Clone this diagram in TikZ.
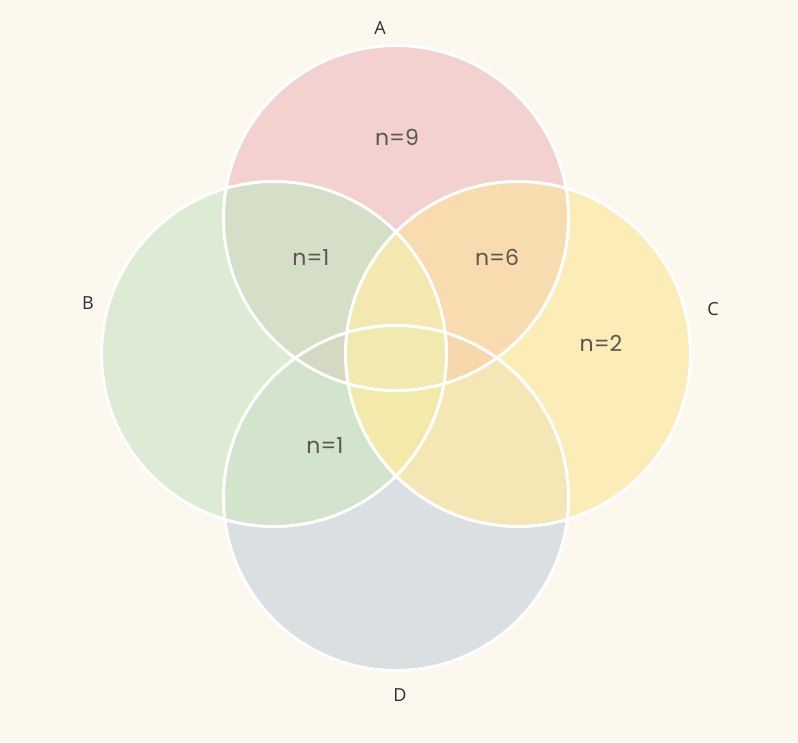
\documentclass[tikz,border=0pt]{standalone}
\usepackage{fontspec}
\setmainfont{Poppins}
\newfontfamily\letterfont{Open Sans}
\usetikzlibrary{positioning}
\definecolor{bgcream}{HTML}{FDF8EE}
\definecolor{letterink}{HTML}{2E2E2E}
\definecolor{countink}{HTML}{5A5650}
\definecolor{fillA}{HTML}{F2D1CF}
\definecolor{fillB}{HTML}{DDEBD4}
\definecolor{fillC}{HTML}{FCECB8}
\definecolor{fillD}{HTML}{DADFE2}
\definecolor{fillAB}{HTML}{D5DEC6}
\definecolor{fillAC}{HTML}{F8DCB0}
\definecolor{fillBD}{HTML}{D3E4CC}
\definecolor{fillCD}{HTML}{F5E6B5}
\definecolor{fillABC}{HTML}{F3E9B0}
\definecolor{fillBCD}{HTML}{F2E9AA}
\definecolor{fillABD}{HTML}{D5D9C3}
\definecolor{fillACD}{HTML}{F6D8AC}
\definecolor{fillABCD}{HTML}{F2E9B0}
\tikzset{
	setlabel/.style={font=\letterfont\fontsize{18}{18}\selectfont, text=letterink, inner sep=0pt},
	countlabel/.style={font=\fontsize{22}{22}\selectfont, text=countink, inner sep=0pt},
	rim/.style={draw=white, line width=3}
}
\newcommand{\rad}{172.5}
\newcommand{\circA}{(cA) circle[radius=\rad]}
\newcommand{\circB}{(cB) circle[radius=\rad]}
\newcommand{\circC}{(cC) circle[radius=\rad]}
\newcommand{\circD}{(cD) circle[radius=\rad]}
\begin{document}
\begin{tikzpicture}[x=1pt, y=-1pt]
	\fill[bgcream] (0,0) rectangle (798,742);
	\useasboundingbox (0,0) rectangle (798,742);

	\coordinate (cA) at (396, 218);
	\coordinate (cB) at (274, 354);
	\coordinate (cC) at (518, 354);
	\coordinate (cD) at (396, 498);

	% single sets
	\fill[fillA] \circA;
	\fill[fillB] \circB;
	\fill[fillC] \circC;
	\fill[fillD] \circD;

	% pairs
	\begin{scope}
		\clip \circA;
		\fill[fillAB] \circB;
		\fill[fillAC] \circC;
	\end{scope}
	\begin{scope}
		\clip \circD;
		\fill[fillBD] \circB;
		\fill[fillCD] \circC;
	\end{scope}
	\begin{scope}
		\clip \circB;
		\fill[fillABC] \circC;
	\end{scope}

	% triples
	\begin{scope}
		\clip \circA; \clip \circB;
		\fill[fillABC] \circC;
		\fill[fillABD] \circD;
	\end{scope}
	\begin{scope}
		\clip \circA; \clip \circC;
		\fill[fillACD] \circD;
	\end{scope}
	\begin{scope}
		\clip \circB; \clip \circC;
		\fill[fillBCD] \circD;
	\end{scope}

	% all four
	\begin{scope}
		\clip \circA; \clip \circB; \clip \circC;
		\fill[fillABCD] \circD;
	\end{scope}

	% outlines
	\foreach \c in {A, B, C, D}
		\draw[rim] (c\c) circle[radius=\rad];

	\node[setlabel] (labelA) at (380, 28) {A};
	\node[setlabel] (labelB) at (88, 303) {B};
	\node[setlabel] (labelC) at (713, 309) {C};
	\node[setlabel] (labelD) at (400, 695) {D};

	\node[countlabel] (onlyA) at (397, 137) {n=9};
	\node[countlabel] (AB) at (311, 258) {n=1};
	\node[countlabel] (AC) at (497, 257) {n=6};
	\node[countlabel] (onlyC) at (601, 343) {n=2};
	\node[countlabel] (BD) at (325, 446) {n=1};
\end{tikzpicture}
\end{document}
